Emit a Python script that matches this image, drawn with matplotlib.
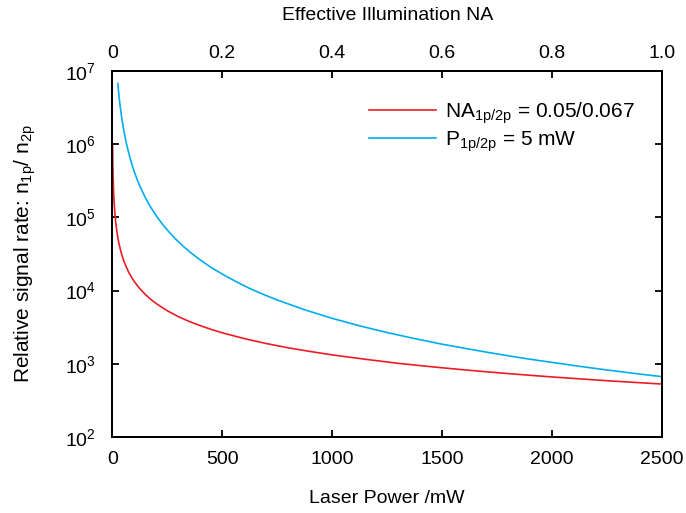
import matplotlib
matplotlib.use("Agg")
from matplotlib import pyplot as plt
from matplotlib.ticker import FixedLocator, FixedFormatter, NullLocator

plt.rcParams['font.family'] = ['Liberation Sans', 'DejaVu Sans']
plt.rcParams['mathtext.fontset'] = 'custom'
plt.rcParams['mathtext.rm'] = 'Liberation Sans'
plt.rcParams['mathtext.it'] = 'Liberation Sans:italic'
plt.rcParams['mathtext.default'] = 'regular'

# red curve: ratio vs laser power (bottom axis)
power_mw = [1.3, 1.6, 2, 2.5, 3, 4, 5, 6, 8, 10, 12, 15, 20, 25, 30, 40, 50, 60,
            75, 90, 100, 120, 150, 175, 200, 250, 300, 350, 400, 450, 500, 600,
            700, 800, 900, 1000, 1150, 1300, 1450, 1600, 1800, 2000, 2250, 2500]
ratio_power = [1020000, 831000, 665000, 532000, 443000, 333000, 266000, 222000,
               166000, 133000, 111000, 88700, 66500, 53200, 44300, 33300, 26600,
               22200, 17700, 14800, 13300, 11100, 8870, 7600, 6650, 5320, 4430,
               3800, 3330, 2960, 2660, 2220, 1900, 1660, 1480, 1330, 1160, 1020,
               917, 831, 739, 665, 591, 532]

# blue curve: ratio vs effective NA (top axis)
na = [0.01, 0.011, 0.012, 0.013, 0.015, 0.017, 0.02, 0.023, 0.026, 0.03, 0.035,
      0.04, 0.045, 0.05, 0.06, 0.07, 0.08, 0.09, 0.1, 0.115, 0.13, 0.145, 0.16,
      0.18, 0.2, 0.225, 0.25, 0.275, 0.3, 0.35, 0.4, 0.45, 0.5, 0.55, 0.6, 0.65,
      0.7, 0.75, 0.8, 0.85, 0.9, 0.95, 1.0]
ratio_na = [6700000, 5550000, 4660000, 3970000, 2980000, 2320000, 1680000,
            1270000, 993000, 746000, 548000, 419000, 331000, 268000, 186000,
            137000, 105000, 82800, 67100, 50700, 39700, 31900, 26200, 20700,
            16800, 13300, 10700, 8870, 7460, 5480, 4190, 3310, 2680, 2220, 1860,
            1590, 1370, 1190, 1050, 929, 828, 743, 671]

x_ticks = [0, 500, 1000, 1500, 2000, 2500]
top_ticks = [0, 0.2, 0.4, 0.6, 0.8, 1.0]
top_labels = ["0", "0.2", "0.4", "0.6", "0.8", "1.0"]

fig = plt.figure(figsize=(6.86, 5.13), dpi=100)
ax = fig.add_axes([0.1637, 0.1476, 0.8013, 0.7146])
ax_top = ax.twiny()

red = "#ee1c25"
blue = "#00aeef"

l1, = ax.plot(power_mw, ratio_power, color=red, lw=1.2,
              label="NA$_{1p/2p}$ = 0.05/0.067")
l2, = ax_top.plot(na, ratio_na, color=blue, lw=1.2,
                  label="P$_{1p/2p}$ = 5 mW")

ax.set_yscale("log")
ax.set_ylim(1e2, 1e7)
ax.set_xlim(0, 2500)
ax_top.set_xlim(0, 1.0)
ax.set_xticks(x_ticks)
ax.yaxis.set_minor_locator(NullLocator())
ax_top.xaxis.set_major_locator(FixedLocator(top_ticks))
ax_top.xaxis.set_major_formatter(FixedFormatter(top_labels))

for a in (ax, ax_top):
    a.tick_params(direction="in", length=5, width=1.3, labelsize=14,
                  top=False, right=True)
    for s in a.spines.values():
        s.set_linewidth(1.4)
ax.tick_params(axis="x", pad=10)
ax.tick_params(axis="y", pad=12)
ax_top.tick_params(axis="x", top=True, bottom=False, pad=6)

ax.set_xlabel("Laser Power /mW", fontsize=14, labelpad=16)
ax.set_ylabel("Relative signal rate: n$_{1p}$/ n$_{2p}$", fontsize=15, labelpad=19)
ax_top.set_xlabel("Effective Illumination NA", fontsize=14, labelpad=18)

ax.legend(handles=[l1, l2], loc="upper right", frameon=False, fontsize=15,
          handlelength=3.2, handletextpad=0.45, labelspacing=0.15,
          bbox_to_anchor=(0.985, 0.97))

fig.savefig("out.png", dpi=100)
